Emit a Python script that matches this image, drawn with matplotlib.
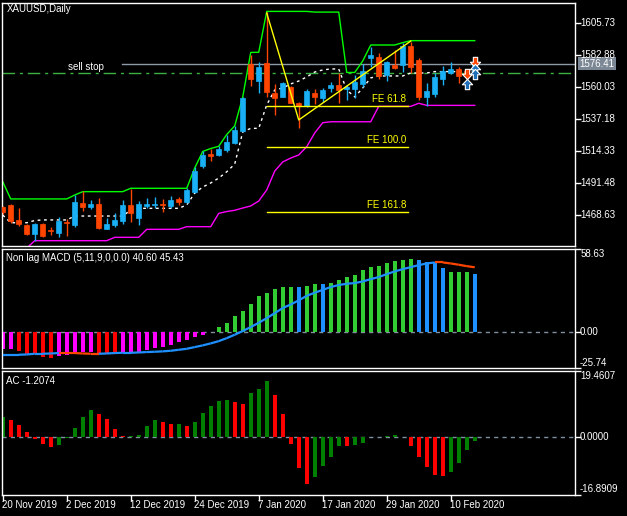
import matplotlib
matplotlib.use("Agg")
import matplotlib.pyplot as plt
from matplotlib.path import Path
from matplotlib.patches import Rectangle

plt.rcParams["font.family"] = ["Liberation Sans", "DejaVu Sans"]

W, H = 627, 516

# ── data ───────────────────────────────────────────────────────────────────
date_idx = [0, 8, 16, 24, 32, 40, 48, 56]
date_labels = ["20 Nov 2019", "2 Dec 2019", "12 Dec 2019", "24 Dec 2019",
               "7 Jan 2020", "17 Jan 2020", "29 Jan 2020", "10 Feb 2020"]

opens = [1473.9, 1475.6, 1464.8, 1461.3, 1454.9, 1462.0, 1457.7, 1455.4, 1463.3, 1461.1,
         1477.2, 1474.1, 1476.3, 1458.6, 1461.1, 1464.1, 1475.6, 1466.5, 1474.8, 1475.4,
         1476.3, 1474.8, 1480.1, 1477.7, 1485.1, 1503.6, 1511.8, 1511.3, 1514.8, 1520.0,
         1528.6, 1576.2, 1564.3, 1576.7, 1555.3, 1552.9, 1559.6, 1548.2, 1546.2, 1555.3,
         1551.9, 1559.1, 1561.2, 1558.2, 1558.2, 1561.9, 1580.5, 1581.0, 1568.4, 1575.5,
         1575.5, 1589.1, 1579.1, 1552.9, 1554.8, 1565.5, 1569.6, 1572.4, 1571.2, 1569.5]
highs = [1475.0, 1476.3, 1473.4, 1462.0, 1462.9, 1462.5, 1459.6, 1467.0, 1465.6, 1482.7,
         1485.3, 1479.1, 1480.6, 1466.3, 1469.6, 1479.1, 1487.0, 1478.4, 1480.8, 1481.5,
         1480.1, 1482.0, 1481.5, 1487.5, 1502.5, 1514.1, 1515.3, 1517.7, 1525.5, 1532.0,
         1552.5, 1582.7, 1577.9, 1613.3, 1561.9, 1563.6, 1560.5, 1549.3, 1558.2, 1558.2,
         1558.9, 1563.6, 1569.6, 1561.2, 1568.4, 1576.2, 1588.6, 1583.9, 1578.4, 1586.2,
         1591.2, 1592.2, 1580.5, 1562.9, 1569.8, 1574.8, 1577.7, 1574.3, 1572.7, 1577.0]
lows = [1469.0, 1462.5, 1460.8, 1454.4, 1449.9, 1452.5, 1454.4, 1452.7, 1453.4, 1459.6,
        1471.3, 1472.7, 1458.2, 1458.2, 1459.6, 1462.0, 1463.6, 1461.3, 1473.2, 1473.2,
        1470.8, 1473.2, 1475.6, 1477.2, 1483.9, 1502.2, 1507.2, 1510.8, 1513.6, 1518.9,
        1527.9, 1560.5, 1555.7, 1552.4, 1539.8, 1552.4, 1548.2, 1530.3, 1545.8, 1547.7,
        1549.3, 1556.5, 1548.2, 1550.5, 1551.8, 1559.6, 1574.1, 1565.7, 1564.1, 1572.7,
        1570.7, 1570.0, 1550.5, 1546.6, 1552.6, 1561.2, 1569.1, 1562.4, 1566.3, 1566.0]
closes = [1470.8, 1464.1, 1462.0, 1455.1, 1462.0, 1453.4, 1456.9, 1464.4, 1462.6, 1477.7,
          1474.1, 1476.3, 1459.1, 1462.0, 1464.8, 1475.6, 1469.6, 1476.3, 1476.3, 1476.3,
          1475.4, 1479.1, 1477.7, 1486.3, 1500.1, 1511.3, 1510.8, 1515.5, 1520.8, 1529.1,
          1551.7, 1565.7, 1574.3, 1556.2, 1551.9, 1562.4, 1548.6, 1546.2, 1557.2, 1552.9,
          1557.7, 1561.5, 1557.7, 1559.6, 1563.6, 1571.5, 1582.6, 1567.7, 1577.7, 1573.4,
          1589.1, 1574.1, 1552.9, 1557.2, 1566.9, 1571.5, 1572.4, 1568.0, 1568.4, 1576.41]

upper_band = [1492.2, 1479.9, 1479.9, 1479.9, 1479.9, 1479.9, 1479.9, 1479.9, 1479.9, 1482.7,
              1485.1, 1485.1, 1485.1, 1485.1, 1485.1, 1485.1, 1487.5, 1487.5, 1487.5, 1487.5,
              1487.5, 1487.5, 1487.5, 1487.5, 1502.0, 1513.8, 1515.9, 1517.5, 1525.9, 1532.1,
              1552.7, 1584.5, 1584.6, 1613.8, 1613.8, 1613.8, 1613.8, 1613.8, 1613.8, 1613.3,
              1613.3, 1613.3, 1613.3, 1570.2, 1570.2, 1578.4, 1589.8, 1589.8, 1589.8, 1589.8,
              1591.5, 1592.9, 1592.9, 1592.9, 1592.9, 1592.9, 1592.9, 1592.9, 1592.9, 1592.9]
lower_band = [1441.0, 1441.5, 1442.0, 1444.8, 1450.1, 1450.1, 1450.1, 1450.1, 1450.1, 1450.1,
              1450.1, 1450.1, 1450.1, 1450.1, 1452.5, 1452.5, 1452.5, 1452.5, 1458.2, 1458.2,
              1458.2, 1458.2, 1458.2, 1460.1, 1460.1, 1460.1, 1460.1, 1469.6, 1470.9, 1471.8,
              1473.4, 1474.9, 1478.4, 1486.3, 1499.8, 1506.3, 1509.1, 1511.3, 1517.2, 1527.0,
              1534.3, 1535.0, 1535.0, 1535.0, 1535.0, 1535.0, 1535.0, 1546.0, 1546.0, 1546.0,
              1546.0, 1546.0, 1548.2, 1546.7, 1546.7, 1546.7, 1546.7, 1546.7, 1546.7, 1546.7]
mid_line = [1468.4, 1462.9, 1462.9, 1462.9, 1464.5, 1464.9, 1464.9, 1464.9, 1464.9, 1467.7,
            1467.7, 1467.7, 1467.7, 1467.7, 1467.7, 1467.7, 1472.0, 1473.2, 1473.2, 1473.2,
            1473.2, 1473.2, 1473.2, 1475.6, 1484.1, 1488.4, 1491.3, 1494.8, 1499.3, 1504.8,
            1527.7, 1530.3, 1530.3, 1547.0, 1557.7, 1559.1, 1562.0, 1564.1, 1567.0, 1570.5,
            1572.0, 1572.7, 1572.7, 1557.7, 1552.7, 1559.1, 1566.3, 1567.7, 1567.7, 1567.7,
            1567.7, 1569.8, 1569.8, 1569.8, 1570.8, 1570.8, 1570.8, 1570.8, 1570.8, 1570.8]

zigzag_idx = [33, 37, 51]
zigzag_px = [1612.6, 1536.3, 1592.6]
fe_start, fe_end = 33, 50.7
fe_levels = [1546.3, 1516.8, 1470.6]
fe_names = ["FE 61.8", "FE 100.0", "FE 161.8"]

bid_price = 1576.41
bid_from = 14.9
sell_stop_price = 1569.8

arrows_up_idx = [58, 59, 59]
arrows_up_px = [1562.3, 1572.7, 1569.1]
arrows_dn_idx = [58, 59]
arrows_dn_px = [1569.4, 1577.7]

price_ticks = [1605.73, 1582.88, 1560.03, 1537.18, 1514.33, 1491.48, 1468.63]

macd_hist = [-12.4, -12.0, -13.8, -15.5, -15.7, -17.8, -18.8, -17.1, -16.2, -15.5,
             -14.3, -14.3, -14.8, -15.7, -15.5, -14.8, -14.3, -14.8, -13.1, -11.5,
             -10.8, -9.6, -7.3, -6.1, -3.8, -2.1, -0.4, 3.3, 6.3, 10.8,
             14.6, 19.7, 24.9, 27.5, 30.0, 31.7, 31.7, 31.7, 32.4, 33.8,
             33.8, 34.5, 36.6, 38.7, 39.9, 43.7, 45.8, 46.5, 48.6, 49.5,
             50.2, 51.4, 50.7, 48.8, 49.3, 44.6, 41.8, 41.8, 41.8, 40.60]
macd_cols = ("MMRRRRRMMM" "MMRRRMMMMM" "MMMMMMMGGG"
             "GGGGGGGBGG" "BGGGGGGGGG" "GGBBBBGGGB")
macd_signal = [-16.2, -16.2, -16.2, -16.0, -15.5, -15.5, -15.3, -15.0, -15.0, -15.0,
               -15.3, -15.5, -15.5, -15.3, -15.0, -14.8, -14.8, -14.6, -14.3, -14.1,
               -13.8, -13.4, -12.7, -12.0, -10.8, -9.6, -8.2, -6.6, -4.5, -2.1,
               0.5, 3.3, 6.3, 9.6, 13.1, 16.7, 19.2, 22.1, 25.3, 27.5,
               29.5, 31.5, 32.9, 33.8, 34.3, 35.4, 37.1, 38.5, 40.6, 42.5,
               44.1, 45.5, 46.9, 48.1, 48.8, 48.8, 48.1, 47.2, 46.2, 45.43]
signal_dn = [0, 0, 0, 0, 0, 0, 0, 1, 1, 1, 1, 1, 1, 0, 0, 0, 0, 0, 0, 0,
             0, 0, 0, 0, 0, 0, 0, 0, 0, 0, 0, 0, 0, 0, 0, 0, 0, 0, 0, 0,
             0, 0, 0, 0, 0, 0, 0, 0, 0, 0, 0, 0, 0, 0, 1, 1, 1, 1, 1, 1]
macd_ticks = [58.63, 0.00, -25.74]
macd_tick_txt = ["58.63", "0.00", "-25.74"]

ac_vals = [5.8, 4.9, 3.6, 1.4, -0.6, -2.1, -2.9, -2.4, -0.1, 2.6,
           5.8, 7.9, 6.9, 5.3, 2.3, 0.3, 0.3, 0.8, 3.4, 5.0,
           4.6, 4.0, 4.0, 3.4, 4.6, 7.2, 9.0, 10.5, 11.0, 10.4,
           9.8, 12.8, 14.2, 16.4, 12.5, 6.9, -1.9, -8.9, -13.8, -11.5,
           -8.5, -5.8, -2.7, -2.7, -2.4, -1.8, 0.05, 0.2, 0.5, 0.8,
           0.2, -2.7, -5.8, -8.6, -10.9, -11.2, -10.3, -7.6, -3.8, -1.2074]
ac_cols = ("GRRRRRRGGG" "GGRRRRGGGG" "RRGRGGGGGR"
           "RGGGRRRRRG" "GGGRGGGGGG" "RRRRRRGGGG")
ac_ticks = [19.4607, 0.0, -16.8909]
ac_tick_txt = ["19.4607", "0.0000", "-16.8909"]

BULL, BEAR = "#19b0f5", "#ff4500"
MACD_C = {"M": "#ff00ff", "R": "#ff0000", "G": "#32cd32", "B": "#1e90ff"}
AC_C = {"G": "#008000", "R": "#ff0000"}
ZERO_C = "#7f8fa0"

n = len(opens)
xs = list(range(n))
XLIM = (-0.09, 71.47)

fig = plt.figure(figsize=(W / 100, H / 100), dpi=100, facecolor="black")


def panel(top, bottom):
    ax = fig.add_axes([2 / W, 1 - bottom / H, 572.5 / W, (bottom - top) / H])
    ax.set_facecolor("black")
    for s in ax.spines.values():
        s.set_color("white"); s.set_linewidth(1)
    ax.set_xlim(*XLIM)
    ax.tick_params(axis="x", bottom=False, labelbottom=False)
    ax.tick_params(axis="y", left=False, labelleft=False, right=True, labelright=False,
                   length=4, width=1, color="white", direction="out")
    return ax


def right_labels(ax, vals, txts, vas):
    ax.set_yticks(vals)
    for v, t, va in zip(vals, txts, vas):
        dy = {"top": -0.5, "bottom": 0.5, "center": 0}[va]
        ax.annotate(t, xy=(1, v), xycoords=("axes fraction", "data"), xytext=(4, dy),
                    textcoords="offset points", ha="left", va=va, color="white", fontsize=7)


def title(ax, txt, dy):
    ax.annotate(txt, xy=(0, 1), xycoords="axes fraction", xytext=(3.2, dy),
                textcoords="offset points", ha="left", va="top", color="white", fontsize=7)


# ── main price panel ────────────────────────────────────────────────────────
ax = panel(2.7, 246)
ax.set_ylim(1446.3, 1620.0)

for i in xs:
    o, h, l, c = opens[i], highs[i], lows[i], closes[i]
    col = BULL if c >= o else BEAR
    ax.vlines(i, l, h, color=col, lw=1, zorder=3)
    ax.add_patch(Rectangle((i - 0.3, min(o, c)), 0.6, max(abs(c - o), 0.7),
                           facecolor=col, edgecolor=col, lw=0.5, zorder=4))

ax.plot(xs, upper_band, color="#00ff00", lw=1, zorder=2)
ax.plot(xs, lower_band, color="#ff00ff", lw=1, zorder=2)
ax.plot(xs, mid_line, color="white", lw=1, ls=(0, (2, 2.6)), zorder=2)

ax.plot(zigzag_idx, zigzag_px, color="#ffff00", lw=1, zorder=5)
for lvl, name in zip(fe_levels, fe_names):
    ax.plot([fe_start, fe_end], [lvl, lvl], color="#ffff00", lw=1, zorder=5)
    ax.annotate(name, xy=(fe_end - 0.3, lvl), xytext=(0, 1.5), textcoords="offset points",
                ha="right", va="bottom", color="#ffff00", fontsize=7)

ax.axhline(sell_stop_price, color="#3cb043", lw=1, ls=(0, (9, 3.5, 2.2, 3.5)), zorder=1)
ax.annotate("sell stop", xy=(8.1, sell_stop_price), xytext=(0, 1), textcoords="offset points",
            ha="left", va="bottom", color="white", fontsize=7)
ax.plot([bid_from, XLIM[1]], [bid_price, bid_price], color="#8e99a6", lw=1, zorder=1)
ax.annotate(f"{bid_price:.2f}", xy=(1, bid_price), xycoords=("axes fraction", "data"),
            xytext=(3.5, 0), textcoords="offset points", ha="left", va="center",
            color="white", fontsize=7,
            bbox=dict(boxstyle="square,pad=0.15", fc="#7b8794", ec="none"))

arr_dn = Path([(-0.42, 1), (0.42, 1), (0.42, 0.05), (1, 0.05), (0, -1), (-1, 0.05),
               (-0.42, 0.05), (-0.42, 1)], closed=True)
arr_up = Path([(x, -y) for x, y in arr_dn.vertices], closed=True)
ax.scatter(arrows_dn_idx, arrows_dn_px, marker=arr_dn, s=55, c="#ff4500",
           edgecolors="white", linewidths=0.8, zorder=6)
ax.scatter(arrows_up_idx, arrows_up_px, marker=arr_up, s=55, c="#1f6fb8",
           edgecolors="white", linewidths=0.8, zorder=6)

right_labels(ax, price_ticks, [f"{p:.2f}" for p in price_ticks], ["center"] * len(price_ticks))
title(ax, "XAUUSD,Daily", -1.2)

# ── Non lag MACD ────────────────────────────────────────────────────────────
ax = panel(248.5, 368.3)
ax.set_ylim(-25.74, 58.63)
ax.axhline(0, color=ZERO_C, lw=1, ls=(0, (3, 3)), zorder=1)
ax.bar(xs, macd_hist, width=0.5, color=[MACD_C[k] for k in macd_cols], zorder=2)
for i in range(n - 1):
    col = "#ff4500" if signal_dn[i] and signal_dn[i + 1] else "#1e90ff"
    ax.plot([i, i + 1], macd_signal[i:i + 2], color=col, lw=1.6, zorder=3,
            solid_capstyle="butt")
right_labels(ax, macd_ticks, macd_tick_txt, ["top", "center", "bottom"])
title(ax, "Non lag MACD (5,11,9,0,0.0) 40.60 45.43", -3.5)

# ── Accelerator oscillator ─────────────────────────────────────────────────
ax = panel(370.7, 495)
ax.set_ylim(-16.8909, 19.4607)
ax.axhline(0, color=ZERO_C, lw=1, ls=(0, (3, 3)), zorder=1)
ax.bar(xs, ac_vals, width=0.5, color=[AC_C[k] for k in ac_cols], zorder=2)
right_labels(ax, ac_ticks, ac_tick_txt, ["top", "center", "bottom"])
title(ax, "AC -1.2074", -3.5)

ax.set_xticks(date_idx)
ax.tick_params(axis="x", bottom=True, length=4, width=1, color="white", direction="out")
for i, lab in zip(date_idx, date_labels):
    ax.annotate(lab, xy=(i, 0), xycoords=("data", "axes fraction"), xytext=(-0.8, -3.6),
                textcoords="offset points", ha="left", va="top", color="white", fontsize=7)

fig.savefig("out.png", dpi=100, facecolor="black")
